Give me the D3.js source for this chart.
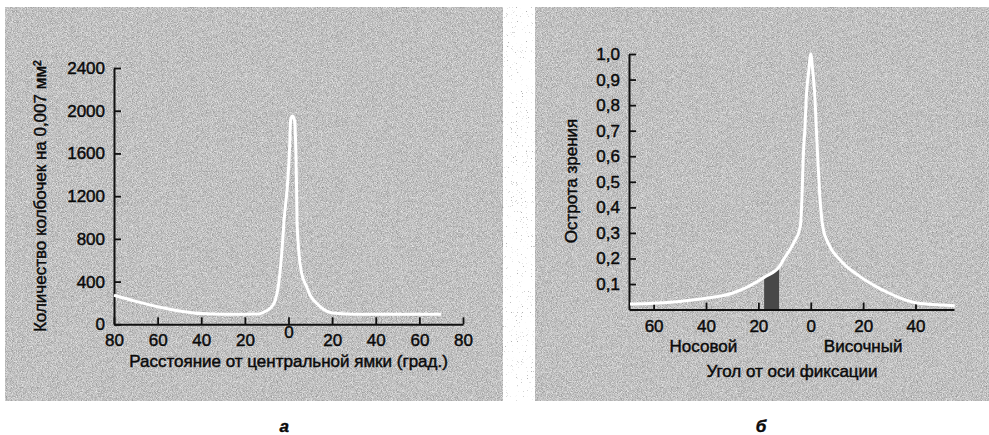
<!DOCTYPE html>
<html><head><meta charset="utf-8">
<script src="https://cdn.jsdelivr.net/npm/d3@7"></script>
<style>
html,body{margin:0;padding:0;background:#fff;}
svg{display:block;}
text{font-family:"Liberation Sans",Arial,sans-serif;fill:#0a0a0a;stroke:#0a0a0a;stroke-width:0.45px;}
</style></head><body>
<svg id="c" width="989" height="435"></svg>
<script>
// ---- Panel a: cone density ----
const coneAngle   = [-80,-70,-60,-50,-40,-30,-20,-14,-11.5,-9,-7.7,-6,-4.7,-3.1,-2,-0.55,0.4,1.0,1.8,2.7,3.4,3.7,3.9,4.8,6,8.3,10,12.9,16,20,30,40,50,60,70];
const coneDensity = [272,215,165,125,100,95,95,96,112,140,165,230,352,665,980,1290,1600,1915,1950,1915,1600,1290,980,665,480,352,270,197,140,105,94,93,93,93,93];
const coneXTicks  = [-80,-60,-40,-20,0,20,40,60,80];
const coneYTicks  = [0,400,800,1200,1600,2000,2400];
const coneXTitle  = "Расстояние от центральной ямки (град.)";
const coneYTitle  = "Количество колбочек на 0,007 мм²";

// ---- Panel б: visual acuity ----
const acuityAngle = [-69,-60,-50,-40,-30,-20,-17.4,-12,-10.5,-6.6,-4.0,-3.3,-2.9,-2.2,-1.6,-0.8,0,0.8,1.5,2.1,2.7,3.4,4.6,6.7,11.2,18.8,25,30,35,40,45,50,55];
const acuityValue = [0.022,0.025,0.032,0.044,0.064,0.112,0.129,0.168,0.194,0.259,0.324,0.455,0.585,0.716,0.846,0.93,1.0,0.93,0.846,0.716,0.585,0.455,0.324,0.259,0.194,0.129,0.09,0.064,0.042,0.027,0.021,0.018,0.015];
const acuityXTicks = [-60,-40,-20,0,20,40];
const acuityYTicks = [0.1,0.2,0.3,0.4,0.5,0.6,0.7,0.8,0.9,1.0];
const blindSpot    = [-17.8,-12.1];
const sideLabels   = ["Носовой","Височный"];
const sideLabelAt  = [-41,20];
const acuityXTitle = "Угол от оси фиксации";
const acuityYTitle = "Острота зрения";
const captions     = ["а","б"];

const svg = d3.select("#c");
const FS = 17;

// noise filters for panel backgrounds
const defs = svg.append("defs");
function noiseFilter(id, seed, values){
  const f = defs.append("filter").attr("id",id).attr("x",0).attr("y",0).attr("width","100%").attr("height","100%")
    .attr("color-interpolation-filters","sRGB");
  f.append("feTurbulence").attr("type","fractalNoise").attr("baseFrequency",1.2).attr("numOctaves",1).attr("seed",seed).attr("result","t");
  f.append("feColorMatrix").attr("in","t").attr("type","matrix").attr("values",values);
}
noiseFilter("noise",4,"0.55 0 0 0 0.48  0.55 0 0 0 0.48  0.55 0 0 0 0.48  0 0 0 0 1");
noiseFilter("noise2",9,"0 0 0 0 0.7  0 0 0 0 0.7  0 0 0 0 0.7  -10 0 0 0 3.3");

svg.append("rect").attr("x",503).attr("y",7).attr("width",32).attr("height",394).attr("filter","url(#noise2)");
svg.append("rect").attr("x",5).attr("y",7).attr("width",498).attr("height",394).attr("filter","url(#noise)");
svg.append("rect").attr("x",535).attr("y",7).attr("width",454).attr("height",394).attr("filter","url(#noise)");

function styleAxis(g){
  g.select(".domain").attr("stroke","#111").attr("stroke-width",2);
  g.selectAll(".tick line").attr("stroke","#111").attr("stroke-width",1.8);
  g.selectAll(".tick text").attr("font-size",FS).attr("font-family","Liberation Sans, Arial, sans-serif").attr("fill","#0a0a0a");
}

// ===== Panel a =====
{
  const x = d3.scaleLinear().domain([-80,80]).range([114,463]);
  const y = d3.scaleLinear().domain([0,2400]).range([324.3,68]);
  const gx = svg.append("g").attr("transform",`translate(0,${y(0)})`)
    .call(d3.axisBottom(x).tickValues(coneXTicks).tickSizeInner(-7).tickSizeOuter(0).tickPadding(10).tickFormat(d=>Math.abs(d)));
  styleAxis(gx);
  gx.selectAll(".tick text").filter(d=>d===0).attr("y",2);
  const gy = svg.append("g").attr("transform",`translate(${x(-80)},0)`)
    .call(d3.axisLeft(y).tickValues(coneYTicks).tickSizeInner(-7).tickSizeOuter(0).tickPadding(9).tickFormat(d3.format("d")));
  styleAxis(gy);
  const line = d3.line().x((d,i)=>x(coneAngle[i])).y(d=>y(d)).curve(d3.curveMonotoneX);
  svg.append("path").attr("d",line(coneDensity)).attr("fill","none").attr("stroke","#fff").attr("stroke-width",3).attr("stroke-linejoin","round");
  svg.append("text").attr("x",x(0)).attr("y",367).attr("text-anchor","middle").attr("font-size",FS).text(coneXTitle);
  svg.append("text").attr("transform",`translate(46,${(y(0)+y(2400))/2}) rotate(-90)`).attr("text-anchor","middle").attr("font-size",FS).text(coneYTitle);
  svg.append("text").attr("x",x(-2)).attr("y",432).attr("text-anchor","middle").attr("font-size",FS).attr("font-style","italic").attr("font-weight","bold").text(captions[0]);
}

// ===== Panel б =====
{
  const x = d3.scaleLinear().domain([-69.4,54.7]).range([629,954]);
  const y = d3.scaleLinear().domain([0,1]).range([309.6,54]);
  const area = d3.area().x((d,i)=>x(acuityAngle[i])).y0(y(0)).y1(d=>y(d)).curve(d3.curveMonotoneX);
  defs.append("clipPath").attr("id","bs").append("rect")
    .attr("x",x(blindSpot[0])).attr("y",0).attr("width",x(blindSpot[1])-x(blindSpot[0])).attr("height",435);
  svg.append("path").attr("d",area(acuityValue)).attr("fill","#484848").attr("clip-path","url(#bs)");
  const gx = svg.append("g").attr("transform",`translate(0,${y(0)})`)
    .call(d3.axisBottom(x).tickValues(acuityXTicks).tickSizeInner(-7).tickSizeOuter(0).tickPadding(10).tickFormat(d=>Math.abs(d)));
  styleAxis(gx);
  const gy = svg.append("g").attr("transform",`translate(${x(-69.4)},0)`)
    .call(d3.axisLeft(y).tickValues(acuityYTicks).tickSizeInner(-7).tickSizeOuter(0).tickPadding(9).tickFormat(d=>d3.format(".1f")(d).replace(".",",")));
  styleAxis(gy);
  const line = d3.line().x((d,i)=>x(acuityAngle[i])).y(d=>y(d)).curve(d3.curveMonotoneX);
  svg.append("path").attr("d",line(acuityValue)).attr("fill","none").attr("stroke","#fff").attr("stroke-width",3).attr("stroke-linejoin","round");
  sideLabels.forEach((t,i)=>{
    svg.append("text").attr("x",x(sideLabelAt[i])).attr("y",352).attr("text-anchor","middle").attr("font-size",FS).text(t);
  });
  svg.append("text").attr("x",792).attr("y",377).attr("text-anchor","middle").attr("font-size",FS).text(acuityXTitle);
  svg.append("text").attr("transform",`translate(577,181) rotate(-90)`).attr("text-anchor","middle").attr("font-size",FS).text(acuityYTitle);
  svg.append("text").attr("x",761).attr("y",432).attr("text-anchor","middle").attr("font-size",FS).attr("font-style","italic").attr("font-weight","bold").text(captions[1]);
}
</script></body></html>
